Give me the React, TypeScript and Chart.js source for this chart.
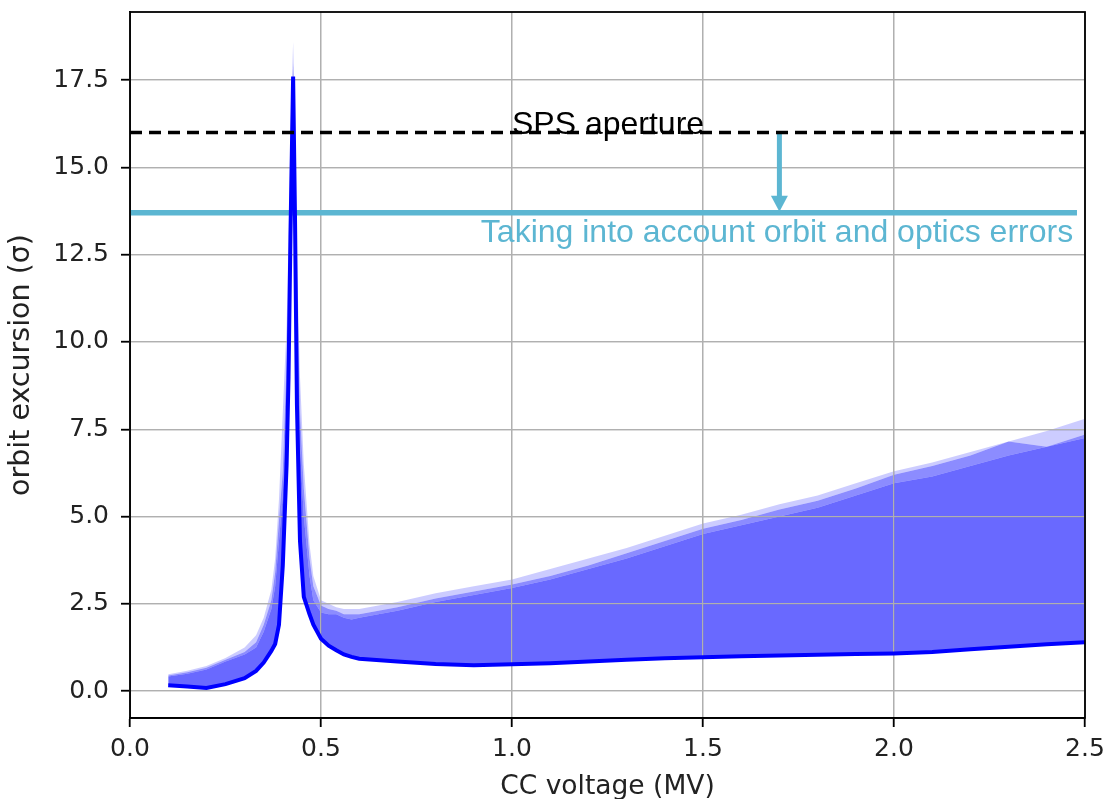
import React, { useEffect, useRef } from "react";
import { Chart, registerables } from "chart.js";

Chart.register(...registerables);

// CC voltage (MV)
const xValues = [
  0.1, 0.15, 0.2, 0.25, 0.3,
  0.33, 0.35, 0.37, 0.38, 0.39,
  0.4, 0.41, 0.415, 0.42, 0.427,
  0.432, 0.437, 0.445, 0.455, 0.47,
  0.48, 0.5, 0.52, 0.54, 0.56,
  0.58, 0.6, 0.7, 0.8, 0.9,
  1.0, 1.1, 1.2, 1.3, 1.4, 1.5, 1.6, 1.7, 1.8, 1.9, 2.0, 2.1, 2.2, 2.3, 2.4, 2.5,
];

// lower envelope (dark blue line)
const lowerEnvelope = [
  0.17, 0.13, 0.09, 0.2, 0.37,
  0.58, 0.82, 1.15, 1.35, 1.9,
  3.6, 6.5, 9.0, 13.0, 17.6,
  13.5, 8.2, 4.3, 2.7, 2.2,
  1.9, 1.5, 1.3, 1.17, 1.05,
  0.98, 0.93, 0.85, 0.78, 0.74,
  0.77, 0.8, 0.85, 0.9, 0.94, 0.97, 1.0, 1.02, 1.04, 1.06, 1.08, 1.12, 1.2, 1.27, 1.34, 1.4,
];

// upper envelope, most runs
const upperMain = [
  0.42, 0.5, 0.62, 0.85, 1.05,
  1.25, 1.7, 2.35, 3.0, 4.3,
  5.6, 8.5, 11, 14.5, 17.8,
  15.5, 11.5, 7.0, 5.0, 3.3,
  2.6, 2.25, 2.2, 2.2, 2.1,
  2.05, 2.1, 2.3, 2.55, 2.75,
  2.95, 3.2, 3.5, 3.8, 4.15, 4.5, 4.75, 5.0, 5.25, 5.6, 5.95, 6.15, 6.45, 6.75, 7.0, 7.25,
];

// upper envelope, intermediate runs
const upperMid = [
  0.45, 0.54, 0.67, 0.9, 1.12,
  1.4, 1.9, 2.6, 3.4, 4.9,
  6.3, 9.5, 12, 15, 18.0,
  15.8, 12, 8, 5.8, 3.8,
  3.0, 2.45, 2.35, 2.3, 2.2,
  2.2, 2.2, 2.4, 2.65, 2.85,
  3.05, 3.3, 3.6, 3.95, 4.3, 4.65, 4.9, 5.2, 5.45, 5.8, 6.2, 6.45, 6.75, 7.15, 7.0, 7.35,
];

// upper envelope, extreme runs
const upperLight = [
  0.48, 0.58, 0.72, 0.95, 1.25,
  1.6, 2.1, 2.9, 3.8, 5.5,
  8, 10.5, 13, 16, 18.6,
  16.3, 12.5, 9, 6.5, 4.2,
  3.3, 2.6, 2.5, 2.4, 2.35,
  2.35, 2.35, 2.55, 2.8, 3.0,
  3.2, 3.5, 3.8, 4.1, 4.45, 4.8, 5.05, 5.35, 5.6, 5.95, 6.3, 6.55, 6.85, 7.15, 7.45, 7.8,
];

const xTicks = [0, 0.5, 1.0, 1.5, 2.0, 2.5];
const yTicks = [0, 2.5, 5, 7.5, 10, 12.5, 15, 17.5];

const apertureLevel = 16;
const apertureX = [0, 2.5];
const correctedLevel = 13.7;
const correctedX = [0, 2.479];
const arrowX = 1.7;
const arrowShaftY = [16, 14.15];
const apertureLabel = "SPS aperture";
const apertureLabelPos = { x: 1.0, y: 15.97 };
const correctedLabel = "Taking into account orbit and optics errors";
const correctedLabelPos = { x: 2.469, y: 12.86 };

const CYAN = "#5cb6d2";

const toPoints = (ys: number[]) => xValues.map((x, i) => ({ x, y: ys[i] }));

const annotationPlugin = {
  id: "annotations",
  beforeDatasetsDraw(chart: any) {
    // matplotlib draws grid over filled areas
    chart.scales.x.drawGrid(chart.chartArea);
    chart.scales.y.drawGrid(chart.chartArea);
  },
  afterDatasetsDraw(chart: any) {
    const { ctx, chartArea, scales } = chart;
    const xs = scales.x;
    const ys = scales.y;
    ctx.save();
    // arrow head
    const ax = xs.getPixelForValue(arrowX);
    const tipY = ys.getPixelForValue(correctedLevel) - 1;
    ctx.fillStyle = CYAN;
    ctx.beginPath();
    ctx.moveTo(ax - 8.5, tipY - 16);
    ctx.lineTo(ax + 8.5, tipY - 16);
    ctx.lineTo(ax, tipY);
    ctx.closePath();
    ctx.fill();
    // labels
    ctx.font = '32px "Liberation Sans", Arial, sans-serif';
    ctx.textBaseline = "alphabetic";
    ctx.textAlign = "left";
    ctx.fillStyle = "#000";
    ctx.fillText(apertureLabel, xs.getPixelForValue(apertureLabelPos.x), ys.getPixelForValue(apertureLabelPos.y));
    ctx.textAlign = "right";
    ctx.fillStyle = CYAN;
    ctx.fillText(correctedLabel, xs.getPixelForValue(correctedLabelPos.x), ys.getPixelForValue(correctedLabelPos.y));
    // frame
    ctx.strokeStyle = "#000";
    ctx.lineWidth = 1.8;
    ctx.strokeRect(chartArea.left, chartArea.top, chartArea.width, chartArea.height);
    ctx.restore();
  },
};

export default function App() {
  const ref = useRef<HTMLCanvasElement | null>(null);

  useEffect(() => {
    if (!ref.current) return;
    const tickFont = { family: '"DejaVu Sans", sans-serif', size: 25 };
    const chart = new Chart(ref.current, {
      type: "line",
      data: {
        datasets: [
          {
            label: "lower",
            data: toPoints(lowerEnvelope),
            borderColor: "#0000ff",
            borderWidth: 4,
            fill: false,
            order: 1,
          },
          {
            label: "upperMain",
            data: toPoints(upperMain),
            borderColor: "rgba(0,0,0,0)",
            borderWidth: 0,
            backgroundColor: "rgba(0,0,255,0.59)",
            fill: 0,
            order: 5,
          },
          {
            label: "upperMid",
            data: toPoints(upperMid),
            borderColor: "rgba(0,0,0,0)",
            borderWidth: 0,
            backgroundColor: "rgba(0,0,255,0.45)",
            fill: 1,
            order: 6,
          },
          {
            label: "upperLight",
            data: toPoints(upperLight),
            borderColor: "rgba(0,0,0,0)",
            borderWidth: 0,
            backgroundColor: "rgba(0,0,255,0.2)",
            fill: 2,
            order: 7,
          },
          {
            label: "aperture",
            data: apertureX.map((x) => ({ x, y: apertureLevel })),
            borderColor: "#000",
            borderWidth: 3.5,
            borderDash: [12, 7],
            fill: false,
            order: 0,
          },
          {
            label: "corrected",
            data: correctedX.map((x) => ({ x, y: correctedLevel })),
            borderColor: CYAN,
            borderWidth: 5.5,
            fill: false,
            order: 2,
          },
          {
            label: "arrow",
            data: arrowShaftY.map((y) => ({ x: arrowX, y })),
            borderColor: CYAN,
            borderWidth: 5,
            fill: false,
            order: 2,
          },
        ],
      },
      options: {
        responsive: false,
        animation: false,
        devicePixelRatio: 1,
        layout: { padding: { top: 12, right: 22, left: 0, bottom: 0 } },
        elements: { point: { radius: 0, hoverRadius: 0 }, line: { tension: 0 } },
        plugins: {
          legend: { display: false },
          tooltip: { enabled: false },
          filler: { drawTime: "beforeDatasetsDraw" },
        },
        scales: {
          x: {
            type: "linear",
            min: 0,
            max: 2.5,
            afterBuildTicks: (s: any) => {
              s.ticks = xTicks.map((v) => ({ value: v }));
            },
            afterFit: (s: any) => {
              s.height = 81;
              s.paddingLeft = 0;
              s.paddingRight = 0;
            },
            ticks: {
              callback: (v: any) => Number(v).toFixed(1),
              font: tickFont,
              color: "#222",
              padding: 7,
              maxRotation: 0,
              autoSkip: false,
            },
            grid: { color: "#b0b0b0", lineWidth: 1.3, tickColor: "#000", tickLength: 9, tickWidth: 1.5 },
            border: { display: true, color: "#000", width: 1.8 },
            title: {
              display: true,
              text: "CC voltage (MV)",
              font: { family: '"DejaVu Sans", sans-serif', size: 26.5 },
              color: "#222",
              padding: { top: 0, bottom: -4 },
            },
          },
          y: {
            type: "linear",
            min: -0.77,
            max: 19.45,
            afterBuildTicks: (s: any) => {
              s.ticks = yTicks.map((v) => ({ value: v }));
            },
            afterFit: (s: any) => {
              s.width = 130;
              s.paddingTop = 0;
              s.paddingBottom = 0;
            },
            ticks: {
              callback: (v: any) => Number(v).toFixed(1),
              font: tickFont,
              color: "#222",
              padding: 12,
              autoSkip: false,
            },
            grid: { color: "#b0b0b0", lineWidth: 1.3, tickColor: "#000", tickLength: 9, tickWidth: 1.5 },
            border: { display: true, color: "#000", width: 1.8 },
            title: {
              display: true,
              text: "orbit excursion (σ)",
              font: { family: '"DejaVu Sans", sans-serif', size: 28.5 },
              color: "#222",
              padding: { top: 4, bottom: 0 },
            },
          },
        },
      },
      plugins: [annotationPlugin],
    } as any);
    return () => chart.destroy();
  }, []);

  return (
    <div style={{ position: "absolute", left: 0, top: 0, width: 1107, height: 799, background: "#fff" }}>
      <canvas ref={ref} width={1107} height={799} style={{ width: 1107, height: 799, display: "block" }} />
    </div>
  );
}
